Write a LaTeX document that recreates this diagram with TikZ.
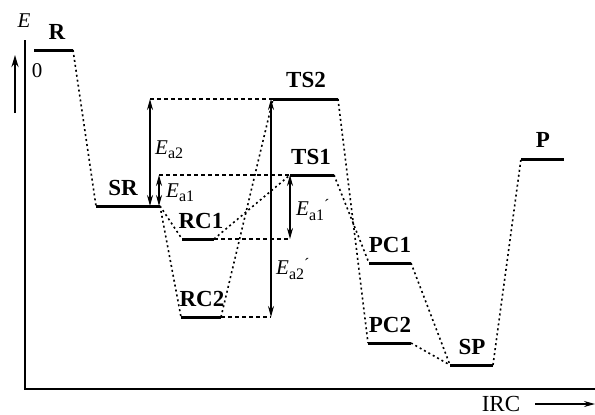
\documentclass[tikz,border=0pt]{standalone}
\usepackage{fontspec}
\setmainfont{Liberation Serif}
\usetikzlibrary{arrows.meta}
\newcommand{\Esub}[2]{\textit{E}\raisebox{-0.45ex}{\fontsize{16}{16}\selectfont #1}#2}
\newcommand{\primemark}{\raisebox{0.55ex}{\fontsize{16}{16}\selectfont ´}}
\begin{document}
\begin{tikzpicture}[x=1pt,y=-1pt,
  level/.style={line width=3pt},
  conn/.style={line width=1.6pt, dash pattern=on 2pt off 3pt},
  guide/.style={line width=1.2pt, dash pattern=on 4pt off 3pt},
  axis/.style={line width=2pt},
  lab/.style={font=\fontsize{23}{23}\selectfont\bfseries, inner sep=0pt},
  elab/.style={font=\fontsize{21}{21}\selectfont, inner sep=0pt, anchor=west},
  dbl/.style={line width=1.4pt, {Stealth[length=11pt,width=6pt]}-{Stealth[length=11pt,width=6pt]}},
  sgl/.style={line width=1.4pt, -{Stealth[length=11pt,width=6pt]}}]
\useasboundingbox (0,0) rectangle (595,415);
% axes
\coordinate (ax0) at (25,389);
\coordinate (axT) at (25,40);
\coordinate (axR) at (595,389);
\draw[axis] (axT) -- (ax0) -- (axR);
\node[font=\fontsize{21}{21}\selectfont\itshape, inner sep=0pt] (Elab) at (24,21) {E};
\node[font=\fontsize{21}{21}\selectfont, inner sep=0pt] (zero) at (37,71) {0};
\coordinate (upA) at (15,113);
\coordinate (upB) at (15,55);
\draw[line width=2pt, -{Stealth[length=12pt,width=7pt]}] (upA) -- (upB);
\node[font=\fontsize{23}{23}\selectfont, inner sep=0pt, anchor=base] (irc) at (501,411) {IRC};
\coordinate (ircA) at (535,404);
\coordinate (ircB) at (595,404);
\draw[sgl] (ircA) -- (ircB);
% levels
\foreach \n/\xa/\xb/\y in {R/34/73/50, SR/96/160/206, RCa/182/214/239, RCb/181/221/317,
  TSb/273/338/99, TSa/290/334/175, PCa/369/411/263, PCb/368/411/343, SP/450/493/365, P/521/564/159}{
  \coordinate (\n l) at (\xa,\y);
  \coordinate (\n r) at (\xb,\y);
  \draw[level] (\n l) -- (\n r);
}
\node[lab] (tR) at (57,32) {R};
\node[lab] (tSR) at (123,188) {SR};
\node[lab] (tRC1) at (201,221) {RC1};
\node[lab] (tRC2) at (202,299) {RC2};
\node[lab] (tTS2) at (306,80) {TS2};
\node[lab] (tTS1) at (311,157) {TS1};
\node[lab] (tPC1) at (390,245) {PC1};
\node[lab] (tPC2) at (390,325) {PC2};
\node[lab] (tSP) at (472,347) {SP};
\node[lab] (tP) at (543,140) {P};
% dotted connectors
\draw[conn] (Rr) -- (SRl);
\draw[conn] (SRr) -- (RCal);
\draw[conn] (SRr) -- (RCbl);
\draw[conn] (RCar) -- (TSal);
\draw[conn] (RCbr) -- (TSbl);
\draw[conn] (TSbr) -- (PCbl);
\draw[conn] (TSar) -- (PCal);
\draw[conn] (PCar) -- (SPl);
\draw[conn] (PCbr) -- (SPl);
\draw[conn] (SPr) -- (Pl);
% guide lines and energy arrows
\coordinate (a2t) at (150,99);
\coordinate (a2b) at (150,206);
\coordinate (a1t) at (159,175);
\coordinate (a1b) at (159,206);
\coordinate (b1t) at (290,175);
\coordinate (b1b) at (290,239);
\coordinate (b2t) at (271,99);
\coordinate (b2b) at (271,317);
\draw[guide] (a2t) -- (TSbl);
\draw[guide] (a1t) -- (TSal);
\draw[guide] (RCar) -- (b1b);
\draw[guide] (RCbr) -- (b2b);
\draw[dbl] (a2t) -- (a2b);
\draw[dbl] (a1t) -- (a1b);
\draw[dbl] (b1t) -- (b1b);
\draw[dbl] (b2t) -- (b2b);
\node[elab] (la2) at (155,150) {\Esub{a2}{}};
\node[elab] (la1) at (166,193) {\Esub{a1}{}};
\node[elab] (lb1) at (296,210) {\Esub{a1}{\primemark}};
\node[elab] (lb2) at (276,269) {\Esub{a2}{\primemark}};
\end{tikzpicture}
\end{document}
